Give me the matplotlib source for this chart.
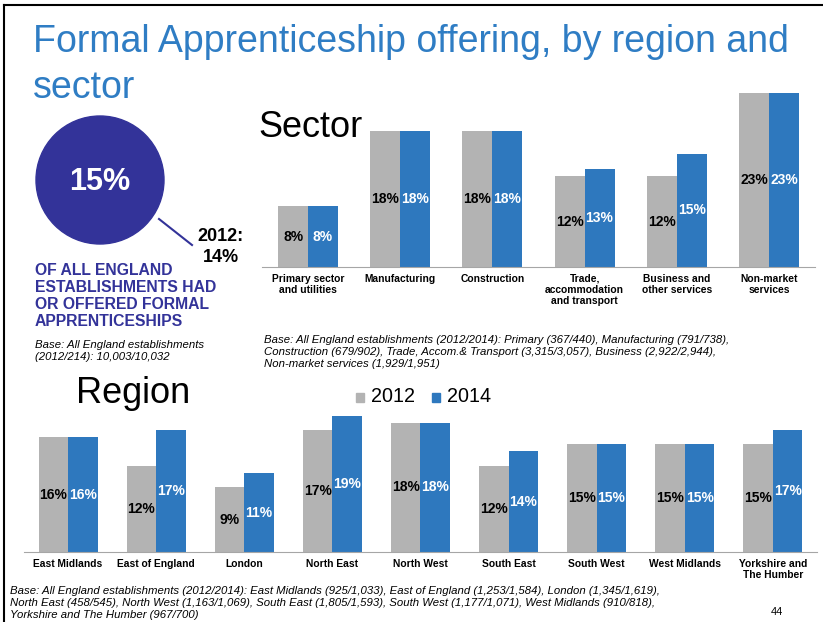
import numpy as np
import matplotlib
matplotlib.use('Agg')
import matplotlib.pyplot as plt
from matplotlib.patches import Circle, Rectangle

plt.rcParams['font.family'] = ['Liberation Sans', 'DejaVu Sans']

# data
sectors = ['Primary sector\nand utilities', 'Manufacturing', 'Construction',
           'Trade,\naccommodation\nand transport', 'Business and\nother services',
           'Non-market\nservices']
sector_2012 = [8, 18, 18, 12, 12, 23]
sector_2014 = [8, 18, 18, 13, 15, 23]

regions = ['East Midlands', 'East of England', 'London', 'North East', 'North West',
           'South East', 'South West', 'West Midlands', 'Yorkshire and\nThe Humber']
region_2012 = [16, 12, 9, 17, 18, 12, 15, 15, 15]
region_2014 = [16, 17, 11, 19, 18, 14, 15, 15, 17]

overall_2014 = 15
overall_2012 = 14

gray = '#B3B3B3'
blue = '#2E78BE'
navy = '#333399'
title_blue = '#2F7DC4'

W, H = 823, 622
fig = plt.figure(figsize=(W / 100, H / 100), dpi=100)

# overlay in pixel coords for the slide text
ax0 = fig.add_axes([0, 0, 1, 1])
ax0.set_xlim(0, W)
ax0.set_ylim(H, 0)
ax0.axis('off')

# slide border
ax0.plot([4, 4], [5, H], color='black', lw=1.5)
ax0.plot([4, W], [5, 5], color='black', lw=1.5)

ax0.text(33, 52, 'Formal Apprenticeship offering, by region and', color=title_blue,
         fontsize=27, va='baseline', ha='left')
ax0.text(33, 98, 'sector', color=title_blue, fontsize=27, va='baseline', ha='left')

# big circle
ax0.add_patch(Circle((100, 180), 64, color=navy, zorder=2))
ax0.text(100, 182, '%d%%' % overall_2014, color='white', fontsize=22, fontweight='bold',
         ha='center', va='center', zorder=3)
ax0.plot([159, 192], [219, 245], color=navy, lw=1.5)
ax0.text(221, 247, '2012:\n%d%%' % overall_2012, fontsize=13, fontweight='bold',
         ha='center', va='center', linespacing=1.3)

ax0.text(35, 296, 'OF ALL ENGLAND\nESTABLISHMENTS HAD\nOR OFFERED FORMAL\nAPPRENTICESHIPS',
         color=navy, fontsize=11.3, fontweight='bold', ha='left', va='center', linespacing=1.18)
ax0.text(35, 351, 'Base: All England establishments\n(2012/214): 10,003/10,032',
         fontsize=8.2, style='italic', ha='left', va='center', linespacing=1.3)

ax0.text(258, 137, 'Sector', fontsize=26, va='baseline', ha='left')
ax0.text(76, 403, 'Region', fontsize=26, va='baseline', ha='left')

ax0.text(264, 352, 'Base: All England establishments (2012/2014): Primary (367/440), Manufacturing (791/738),\n'
         'Construction (679/902), Trade, Accom.& Transport (3,315/3,057), Business (2,922/2,944),\n'
         'Non-market services (1,929/1,951)',
         fontsize=8.2, style='italic', ha='left', va='center', linespacing=1.3)

ax0.text(10, 603, 'Base: All England establishments (2012/2014): East Midlands (925/1,033), East of England (1,253/1,584), London (1,345/1,619),\n'
         'North East (458/545), North West (1,163/1,069), South East (1,805/1,593), South West (1,177/1,071), West Midlands (910/818),\n'
         'Yorkshire and The Humber (967/700)',
         fontsize=8.2, style='italic', ha='left', va='center', linespacing=1.3)
ax0.text(777, 612, '44', fontsize=8, ha='center', va='center')

# legend
ax0.add_patch(Rectangle((356, 393), 8, 9, color=gray))
ax0.text(371, 402, '2012', fontsize=14.2, va='baseline', ha='left')
ax0.add_patch(Rectangle((432, 393), 8, 9, color=blue))
ax0.text(447, 402, '2014', fontsize=14.2, va='baseline', ha='left')


def px_rect(l, t, r, b):
    return [l / W, 1 - b / H, (r - l) / W, (b - t) / H]


def bar_panel(rect, labels, v12, v14, ymax, width):
    ax = fig.add_axes(rect)
    x = np.arange(len(labels))
    b1 = ax.bar(x - width / 2, v12, width, color=gray)
    b2 = ax.bar(x + width / 2, v14, width, color=blue)
    for bars, col in ((b1, 'black'), (b2, 'white')):
        for b in bars:
            h = b.get_height()
            ax.text(b.get_x() + b.get_width() / 2, h / 2, '%d%%' % h, color=col,
                    fontsize=10, fontweight='bold', ha='center', va='center')
    ax.set_xlim(-0.5, len(labels) - 0.5)
    ax.set_ylim(0, ymax)
    ax.set_xticks(x)
    ax.set_xticklabels(labels, fontsize=7.4, fontweight='bold', linespacing=1.15)
    ax.tick_params(axis='x', length=0, pad=5)
    ax.set_yticks([])
    for s in ('top', 'right', 'left'):
        ax.spines[s].set_visible(False)
    ax.spines['bottom'].set_color('#A6A6A6')
    ax.patch.set_alpha(0)
    return ax


bar_panel(px_rect(262, 93, 815, 267), sectors, sector_2012, sector_2014, 23, 0.325)
bar_panel(px_rect(24, 415.6, 817, 552), regions, region_2012, region_2014, 19, 0.335)

fig.savefig('out.png', dpi=100)
